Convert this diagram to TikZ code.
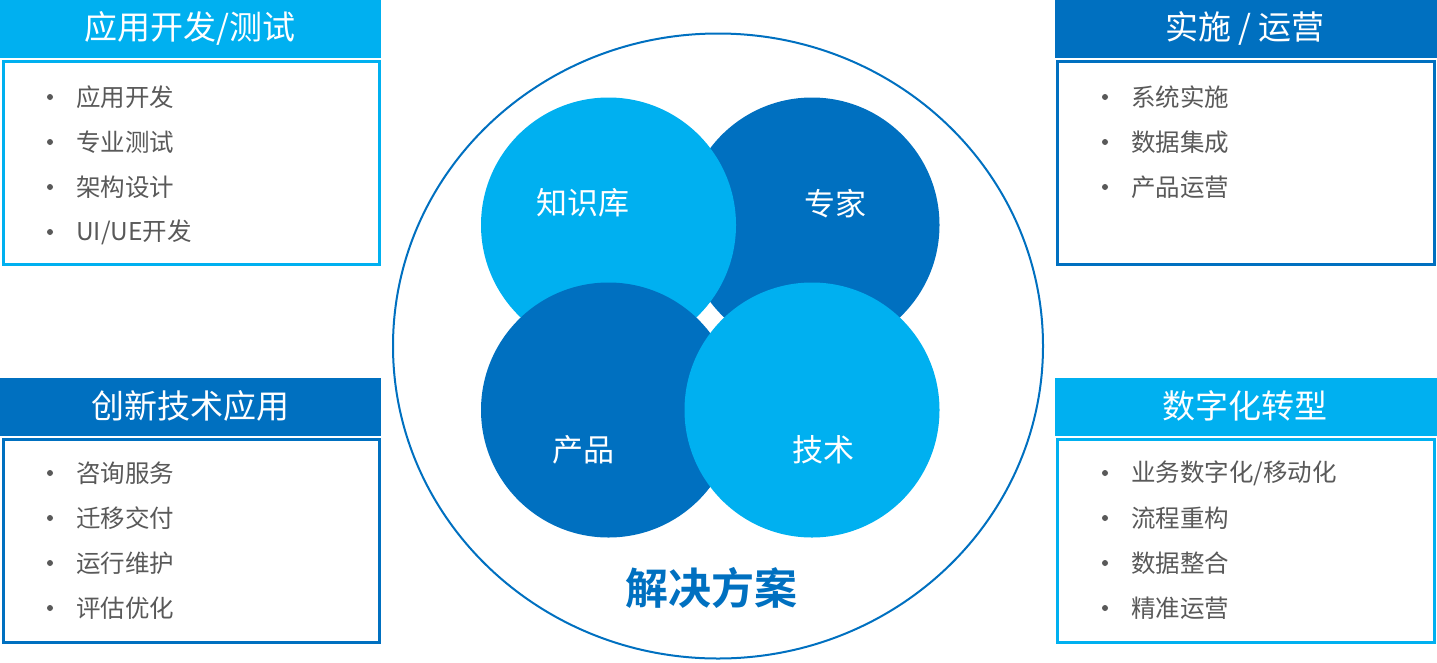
\documentclass[tikz,border=0pt]{standalone}
\usepackage{fontspec}
\setmainfont{Noto Sans CJK SC}
\newfontfamily\cjkbold{Noto Sans CJK SC}[BoldFont={* Bold}]
\definecolor{lblue}{HTML}{00B0F0}
\definecolor{dblue}{HTML}{0070C0}
\definecolor{itemgray}{HTML}{595959}
\tikzset{
  hdr/.style={fill=#1, draw=none},
  bodybox/.style={draw=#1, line width=2.7pt, fill=white},
  hdrtext/.style={text=white, font=\fontsize{33}{38}\selectfont, inner sep=0pt},
  itemtext/.style={text=itemgray, font=\fontsize{24.5}{28}\selectfont, anchor=west, inner sep=0pt},
  bulletdot/.style={circle, fill=itemgray, inner sep=0pt, minimum size=6pt},
  disc/.style={fill=#1, draw=none},
  disctext/.style={text=white, font=\fontsize{31}{36}\selectfont, inner sep=0pt},
}
\begin{document}
\begin{tikzpicture}[x=1pt,y=-1pt]
\useasboundingbox (0,0) rectangle (1437,662);

% ---- Top-left box
\fill[lblue] (0,0) rectangle (381,57.5);
\node[hdrtext] (tlh) at (190,28) {应用开发/测试};
\draw[bodybox=lblue] (3.4,61.4) rectangle (379.4,264.8);
\foreach \t [count=\i] in {应用开发,专业测试,架构设计,UI/UE开发}{
  \node[bulletdot] (tlb\i) at (50,52+45*\i) {};
  \node[itemtext] (tli\i) at (76,52+45*\i) {\t};
}

% ---- Bottom-left box
\fill[dblue] (0,378.3) rectangle (381,435.7);
\node[hdrtext] (blh) at (190,406) {创新技术应用};
\draw[bodybox=dblue] (3.4,439.4) rectangle (379.4,642.6);
\foreach \t [count=\i] in {咨询服务,迁移交付,运行维护,评估优化}{
  \node[bulletdot] (blb\i) at (50,428+45*\i) {};
  \node[itemtext] (bli\i) at (76,428+45*\i) {\t};
}

% ---- Top-right box
\fill[dblue] (1055,0) rectangle (1437,57.5);
\node[hdrtext] (trh) at (1245,28) {实施 / 运营};
\draw[bodybox=dblue] (1057.4,61.4) rectangle (1434.4,264.8);
\foreach \t [count=\i] in {系统实施,数据集成,产品运营}{
  \node[bulletdot] (trb\i) at (1105,52+45*\i) {};
  \node[itemtext] (tri\i) at (1131,52+45*\i) {\t};
}

% ---- Bottom-right box
\fill[lblue] (1055,378.3) rectangle (1437,435.7);
\node[hdrtext] (brh) at (1245,406) {数字化转型};
\draw[bodybox=lblue] (1057.4,439.4) rectangle (1434.4,642.6);
\foreach \t [count=\i] in {业务数字化/移动化,流程重构,数据整合,精准运营}{
  \node[bulletdot] (brb\i) at (1105,428+45*\i) {};
  \node[itemtext] (bri\i) at (1131,428+45*\i) {\t};
}

% ---- Centre
\draw[dblue, line width=2pt] (718,346) ellipse [x radius=325pt, y radius=312.5pt];
\fill[dblue] (812,225) circle [radius=127.5pt];
\fill[lblue] (608.5,225) circle [radius=127.5pt];
\fill[dblue] (608.5,410) circle [radius=127.5pt];
\fill[lblue] (812,410) circle [radius=127.5pt];
\node[disctext] (kb) at (583,203) {知识库};
\node[disctext] (ex) at (835,204) {专家};
\node[disctext] (pr) at (583,450) {产品};
\node[disctext] (te) at (823,450) {技术};
\node[text=dblue, font=\cjkbold\bfseries\fontsize{43}{48}\selectfont, inner sep=0pt] (sol) at (711,588) {解决方案};
\end{tikzpicture}
\end{document}
